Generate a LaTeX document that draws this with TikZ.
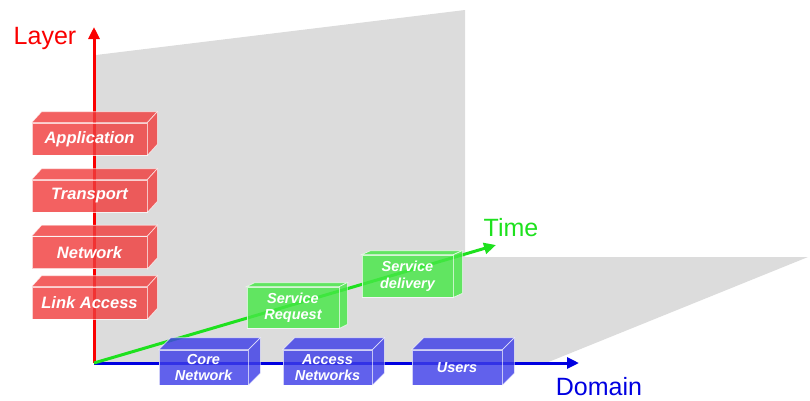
\documentclass[tikz,border=0pt]{standalone}
\usepackage{fontspec}
\setmainfont{Liberation Sans}
\usetikzlibrary{arrows.meta}
\definecolor{boxred}{RGB}{240,62,62}
\definecolor{boxblue}{RGB}{62,62,232}
\definecolor{boxgreen}{RGB}{70,232,70}
\definecolor{plane}{RGB}{220,220,220}
\definecolor{axred}{RGB}{250,0,0}
\definecolor{axblue}{RGB}{0,0,225}
\definecolor{axgreen}{RGB}{30,225,30}
\tikzset{
  face/.style={fill opacity=0.82, draw=white, draw opacity=0.7, line width=0.7pt},
  lbox/.style={face, fill=boxred, minimum width=115pt, minimum height=32pt, inner sep=0pt,
    text=white, text opacity=1, font=\fontsize{16.5}{18}\selectfont\bfseries\itshape},
  dbox/.style={face, fill=boxblue, minimum width=89pt, minimum height=35pt, inner sep=0pt,
    text=white, text opacity=1, align=center, font=\fontsize{14.5}{16.5}\selectfont\bfseries\itshape},
  tbox/.style={face, fill=boxgreen, minimum width=92pt, minimum height=41pt, inner sep=0pt,
    text=white, text opacity=1, align=center, font=\fontsize{14.5}{16.5}\selectfont\bfseries\itshape},
  axis/.style={line width=3pt, -{Triangle[length=12pt,width=11pt]}},
  axlabel/.style={font=\fontsize{25}{28}\selectfont, inner sep=0pt}
}
\newcommand{\boxsides}[4]{%
  \path[face,fill=#4] (#1.north west) -- ++(#2,-#3) -- ([shift={(#2,-#3)}]#1.north east) -- (#1.north east) -- cycle;
  \path[face,fill=#4] (#1.north east) -- ++(#2,-#3) -- ([shift={(#2,-#3)}]#1.south east) -- (#1.south east) -- cycle;
}
\begin{document}
\begin{tikzpicture}[x=1pt,y=-1pt]
\useasboundingbox (0,0) rectangle (810,400);
% planes
\fill[plane] (96,55) -- (465,10) -- (465,257) -- (808,257) -- (546,363) -- (94,363) -- cycle;
% axes
\coordinate (O) at (94,363);
\coordinate (Ltip) at (94,27);
\coordinate (Dtip) at (579,363);
\coordinate (Ttip) at (496,245);
\draw[axis, axred] (O) -- (Ltip);
\draw[axis, axblue] (O) -- (Dtip);
\draw[axis, axgreen] (O) -- (Ttip);
\node[axlabel, text=axred] (layer) at (45,38) {Layer};
\node[axlabel, text=axblue] (domain) at (599,387) {Domain};
\node[axlabel, text=axgreen] (time) at (511,228) {Time};
% layer boxes
\node[lbox] (app) at (89.5,139) {Application};
\boxsides{app}{10}{11}{boxred}
\node[lbox] (trans) at (89.5,196) {Transport};
\boxsides{trans}{10}{11}{boxred}
\node[lbox] (net) at (89.5,252.5) {Network};
\boxsides{net}{10}{11}{boxred}
\node[lbox] (link) at (89.5,303) {Link Access};
\boxsides{link}{10}{11}{boxred}
% time boxes
\node[tbox] (req) at (293,307.5) {Service\\Request};
\boxsides{req}{8}{4}{boxgreen}
\node[tbox, minimum width=91pt, minimum height=42pt] (deliv) at (407.5,276) {Service\\delivery};
\boxsides{deliv}{9}{4}{boxgreen}
% domain boxes
\node[dbox] (core) at (203.5,367.5) {Core\\Network};
\boxsides{core}{12}{12}{boxblue}
\node[dbox] (access) at (327.5,367.5) {Access\\Networks};
\boxsides{access}{12}{12}{boxblue}
\node[dbox, minimum width=90pt] (users) at (457,367.5) {Users};
\boxsides{users}{12}{12}{boxblue}
\end{tikzpicture}
\end{document}
